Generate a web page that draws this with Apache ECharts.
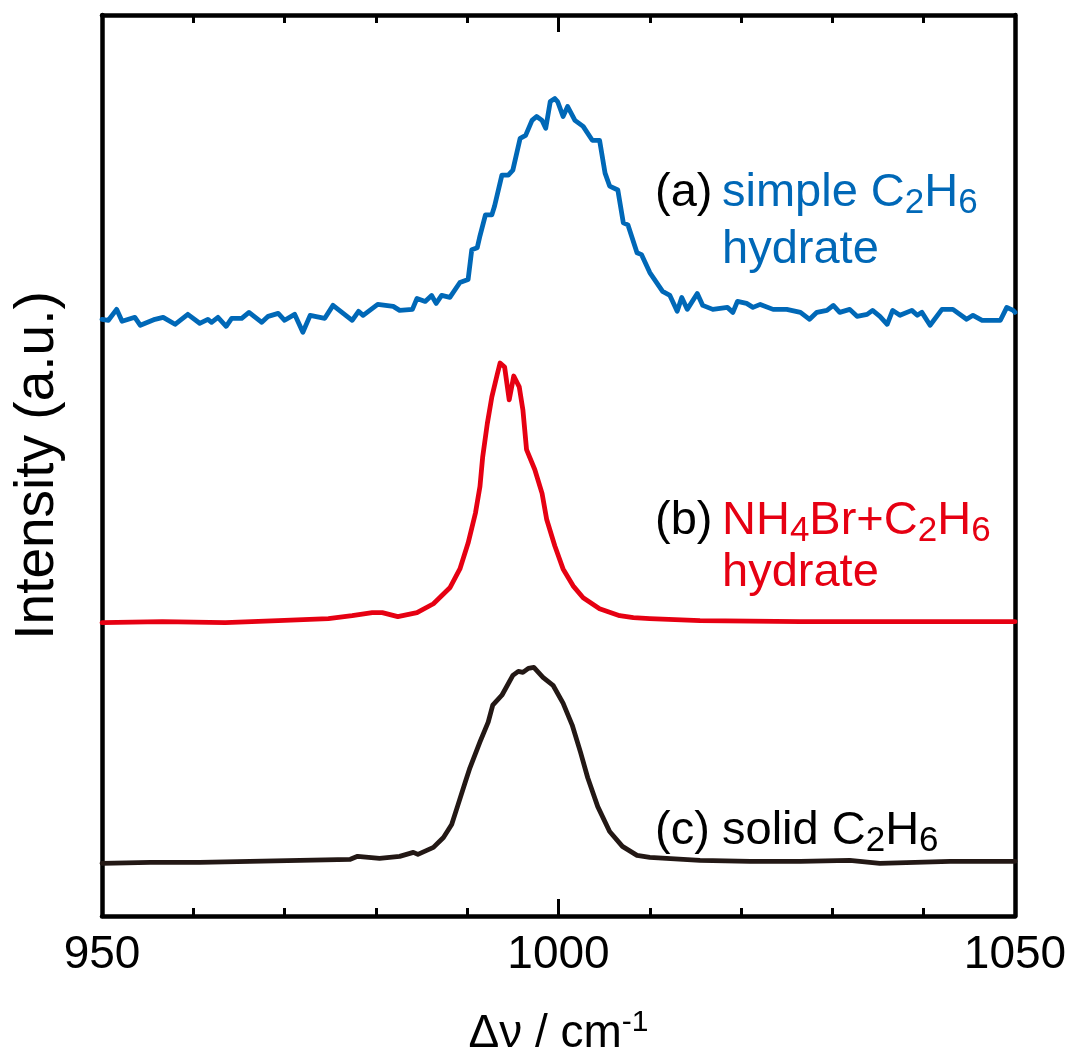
<!DOCTYPE html>
<html>
<head>
<meta charset="utf-8">
<title>Raman C2H6</title>
<script src="https://cdn.jsdelivr.net/npm/echarts@6/dist/echarts.min.js"></script>
<style>
    html, body {margin: 0; padding: 0; background: #fff; overflow: hidden; width: 100%; height: 100%;}
    #chart {position: absolute; left: 0; top: 0; width: 100vw; height: 100vh;}
</style>
</head>
<body>
<div id="chart"></div>
<script>
// x tick labels
var xTicks = [950, 1000, 1050];

// (a) simple C2H6 hydrate
var waveA = [950.0, 950.7, 951.6, 952.2, 953.6, 954.2, 955.8, 956.7, 958.0, 959.4, 960.7, 961.6, 962.0, 962.7, 963.6, 964.2,
    965.3, 966.1, 967.5, 968.2, 969.3, 970.0, 971.1, 972.0, 972.8, 974.4, 975.3, 977.4, 978.1, 978.6, 980.2, 981.9,
    982.6, 984.0, 984.5, 985.4, 986.1, 986.6, 987.2, 988.1, 989.2, 990.1, 990.5, 991.1, 991.4, 992.0, 992.7, 993.0,
    993.8, 994.5, 995.0, 995.8, 996.4, 997.1, 997.6, 998.2, 998.6, 999.1, 999.6, 999.9, 1000.5, 1001.0, 1001.8, 1002.7,
    1003.7, 1004.5, 1005.1, 1005.6, 1006.5, 1007.1, 1007.6, 1008.6, 1009.1, 1010.0, 1011.4, 1012.2, 1013.0, 1013.5, 1014.1,
    1015.2, 1015.8, 1016.9, 1018.5, 1019.1, 1019.6, 1020.6, 1021.3, 1022.1, 1023.5, 1025.0, 1026.5, 1027.5, 1028.3, 1029.4,
    1030.1, 1030.8, 1031.9, 1032.7, 1033.8, 1034.4, 1035.2, 1036.0, 1036.6, 1037.4, 1038.7, 1039.3, 1039.8, 1040.7, 1042.0,
    1043.2, 1044.7, 1045.4, 1046.4, 1048.4, 1049.1, 1049.8, 1050.0];
var intA = [600, 599, 610, 598, 602, 594, 600, 602, 595, 605, 596, 600, 597, 602, 593, 601,
    601, 607, 597, 603, 606, 599, 605, 587, 604, 601, 614, 599, 608, 604, 615, 613,
    609, 610, 621, 618, 624, 616, 624, 622, 637, 640, 670, 672, 684, 705, 705, 714,
    745, 745, 750, 782, 785, 800, 804, 800, 792, 819, 822, 819, 804, 814, 800, 794,
    780, 780, 747, 734, 730, 697, 695, 667, 665, 647, 628, 624, 608, 622, 610,
    626, 614, 610, 612, 607, 618, 616, 612, 615, 610, 610, 607, 600, 607, 609,
    614, 607, 610, 603, 605, 609, 603, 595, 609, 604, 609, 604, 607, 594, 610,
    610, 600, 604, 599, 599, 612, 609, 607];

// (b) NH4Br + C2H6 hydrate
var waveB = [950.0, 956.6, 963.5, 969.3, 974.8, 977.4, 979.6, 980.7, 982.4, 984.5, 986.3, 988.1, 989.2, 990.1, 990.9,
    991.4, 991.7, 992.2, 992.7, 993.3, 993.6, 994.1, 994.6, 995.1, 995.7, 996.1, 996.5, 997.4, 998.2, 998.7, 999.6,
    1000.5, 1001.6, 1002.7, 1004.5, 1006.7, 1008.2, 1010.0, 1015.5, 1026.5, 1037.4, 1050.0];
var intB = [295, 296, 295, 297, 299, 302, 305, 305, 301, 305, 314, 330, 349, 375, 405,
    432, 462, 495, 522, 545, 556, 552, 519, 543, 532, 509, 469, 449, 425, 399, 372,
    349, 332, 320, 309, 302, 300, 299, 297, 296, 296, 296];

// (c) solid C2H6
var waveC = [950.0, 955.3, 960.7, 966.2, 971.7, 977.2, 978.0, 980.4, 982.6, 984.1, 984.6, 986.3, 987.4, 988.3, 989.0,
    989.8, 990.3, 991.4, 992.3, 992.8, 993.8, 995.0, 995.6, 996.1, 996.7, 997.3, 998.3, 999.4, 1000.5, 1001.5, 1002.4,
    1003.2, 1004.3, 1005.6, 1007.0, 1008.6, 1010.0, 1015.5, 1021.0, 1026.5, 1031.9, 1035.2, 1042.9, 1050.0];
var intC = [53, 54, 54, 55, 56, 57, 60, 58, 60, 64, 62, 69, 79, 92, 112,
    135, 149, 175, 195, 212, 222, 242, 246, 245, 249, 250, 240, 232, 214, 192, 165,
    139, 110, 85, 70, 61, 59, 56, 55, 55, 56, 53, 55, 55];

var blue = '#0068b7';
var red = '#e60012';
var dark = '#231815';
var fontFamily = '"Liberation Sans", Arial, Helvetica, sans-serif';

function zip(xs, ys) {
    var out = [];
    for (var i = 0; i < xs.length; i++) {
        out.push([xs[i], ys[i]]);
    }
    return out;
}

function spectrum(name, xs, ys, color) {
    return {
        name: name,
        type: 'line',
        showSymbol: false,
        symbol: 'none',
        smooth: false,
        lineStyle: {color: color, width: 4.8, join: 'round', cap: 'round'},
        data: zip(xs, ys)
    };
}

// label: plain text piece
function label(text, x, y, color, rich) {
    return {
        type: 'text',
        x: x,
        y: y,
        style: {
            text: text,
            fill: color,
            font: '47px ' + fontFamily,
            align: 'left',
            verticalAlign: 'middle',
            rich: rich
        }
    };
}

function chemRich(color) {
    return {
        n: {fontSize: 47, fontFamily: fontFamily, color: color, lineHeight: 56},
        s: {fontSize: 35, fontFamily: fontFamily, color: color, lineHeight: 38, verticalAlign: 'bottom'}
    };
}

var frameLine = {show: true, onZero: false, lineStyle: {color: '#000', width: 4.5}};

var chart = echarts.init(document.getElementById('chart'));
var option = {
    animation: false,
    backgroundColor: '#fff',
    grid: {left: 102, right: 57, top: 15, bottom: 141, containLabel: false},
    xAxis: [{
        type: 'value',
        min: xTicks[0],
        max: xTicks[xTicks.length - 1],
        interval: 50,
        position: 'bottom',
        axisLine: frameLine,
        axisTick: {show: true, inside: true, length: 17, lineStyle: {color: '#000', width: 3}},
        minorTick: {show: true, splitNumber: 5, length: 8, lineStyle: {color: '#000', width: 3}},
        splitLine: {show: false},
        axisLabel: {
            margin: 16, color: '#000', fontSize: 46, fontFamily: fontFamily,
            formatter: function (v) { return xTicks.indexOf(v) > -1 ? String(v) : ''; }
        },
        name: '{t|Δν / cm}{u|-1}',
        nameLocation: 'middle',
        nameGap: 92,
        nameTextStyle: {
            rich: {
                t: {fontSize: 46, fontFamily: fontFamily, color: '#000', lineHeight: 52},
                u: {fontSize: 30, fontFamily: fontFamily, color: '#000', lineHeight: 30, verticalAlign: 'top'}
            }
        }
    }, {
        type: 'value',
        min: xTicks[0],
        max: xTicks[xTicks.length - 1],
        interval: 50,
        position: 'top',
        axisLine: frameLine,
        axisTick: {show: true, inside: true, length: 17, lineStyle: {color: '#000', width: 3}},
        minorTick: {show: true, splitNumber: 5, length: 8, lineStyle: {color: '#000', width: 3}},
        splitLine: {show: false},
        axisLabel: {show: false}
    }],
    yAxis: [{
        type: 'value',
        min: 0,
        max: 906,
        position: 'left',
        axisLine: frameLine,
        axisTick: {show: false},
        axisLabel: {show: false},
        splitLine: {show: false},
        name: 'Intensity (a.u.)',
        nameLocation: 'middle',
        nameGap: 37,
        nameTextStyle: {fontSize: 55, fontFamily: fontFamily, color: '#000'}
    }, {
        type: 'value',
        min: 0,
        max: 906,
        position: 'right',
        axisLine: frameLine,
        axisTick: {show: false},
        axisLabel: {show: false},
        splitLine: {show: false}
    }],
    series: [
        spectrum('(a)', waveA, intA, blue),
        spectrum('(b)', waveB, intB, red),
        spectrum('(c)', waveC, intC, dark)
    ],
    graphic: [
        label('(a)', 655, 193, '#000'),
        label('{n|simple C}{s|2}{n|H}{s|6}', 722, 193, blue, chemRich(blue)),
        label('hydrate', 722, 250, blue),
        label('(b)', 655, 521, '#000'),
        label('{n|NH}{s|4}{n|Br+C}{s|2}{n|H}{s|6}', 722, 521, red, chemRich(red)),
        label('hydrate', 722, 573, red),
        label('(c)', 655, 831, '#000'),
        label('{n|solid C}{s|2}{n|H}{s|6}', 722, 831, '#000', chemRich('#000'))
    ]
};
chart.setOption(option);
</script>
</body>
</html>
